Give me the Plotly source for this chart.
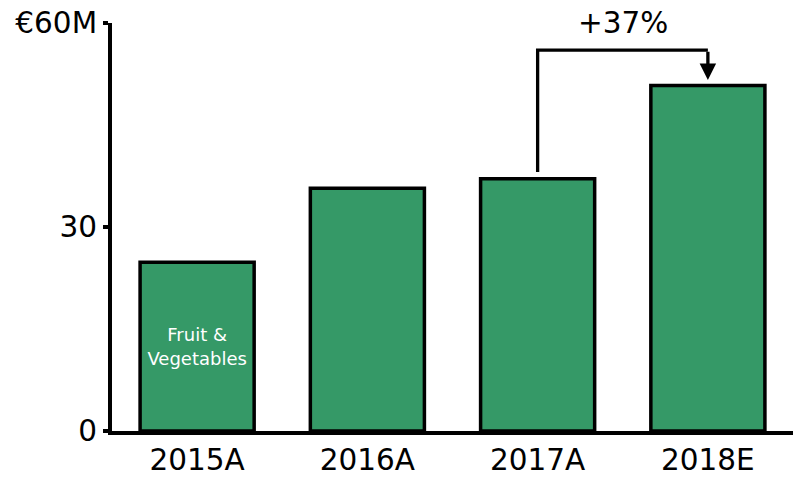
import plotly.graph_objects as go

categories = ["2015A", "2016A", "2017A", "2018E"]
values = [24.8, 35.7, 37.1, 50.8]
bar_labels = ["Fruit &<br>Vegetables", "", "", ""]
tick_vals = [0, 30, 60]
tick_text = ["0", "30", "€60M"]
growth_label = "+37%"

FONT = "DejaVu Sans"
GREEN = "#359967"
TICK_SIZE = 29.5

fig = go.Figure()
fig.add_trace(go.Bar(
    x=categories, y=values,
    marker=dict(color=GREEN, line=dict(color="black", width=3.5)),
    text=bar_labels, textposition="inside", insidetextanchor="middle",
    textfont=dict(family=FONT, size=18, color="white"),
    hoverinfo="skip",
))

# growth bracket from 2017A to 2018E
i0, i1 = 2, 3
y_start = values[i0] + 1.0
y_top = max(values) + 5.2
y_tip = values[i1] + 0.8
fig.add_shape(type="path",
              path=f"M {i0},{y_start} L {i0},{y_top} L {i1},{y_top}",
              xref="x", yref="y", line=dict(color="black", width=3.3))
fig.add_annotation(x=i1, y=y_tip, ax=i1, ay=y_top, xref="x", yref="y",
                   axref="x", ayref="y", text="", showarrow=True,
                   arrowhead=2, arrowwidth=3.3, arrowsize=1.0,
                   arrowcolor="black", standoff=0, startstandoff=0)
fig.add_annotation(x=(i0 + i1) / 2, y=y_top, xref="x", yref="y",
                   text=growth_label, showarrow=False, yanchor="bottom",
                   yshift=8, font=dict(family=FONT, size=TICK_SIZE, color="black"))

fig.update_layout(
    width=793, height=477,
    margin=dict(l=112, r=0, t=23, b=46),
    paper_bgcolor="white", plot_bgcolor="white",
    bargap=0.33, showlegend=False,
    font=dict(family=FONT, size=TICK_SIZE, color="black"),
)
fig.update_xaxes(showline=True, linecolor="black", linewidth=4,
                 ticks="", showgrid=False, zeroline=False,
                 tickfont=dict(family=FONT, size=TICK_SIZE, color="black"))
fig.update_yaxes(range=[0, 60], showline=True, linecolor="black", linewidth=4,
                 ticks="outside", ticklen=5, tickwidth=4, tickcolor="black",
                 tickvals=tick_vals, ticktext=tick_text,
                 showgrid=False, zeroline=False,
                 tickfont=dict(family=FONT, size=TICK_SIZE, color="black"))

fig.write_html("out.html", config={"displayModeBar": False},
               post_script="document.body.style.margin='0';")
